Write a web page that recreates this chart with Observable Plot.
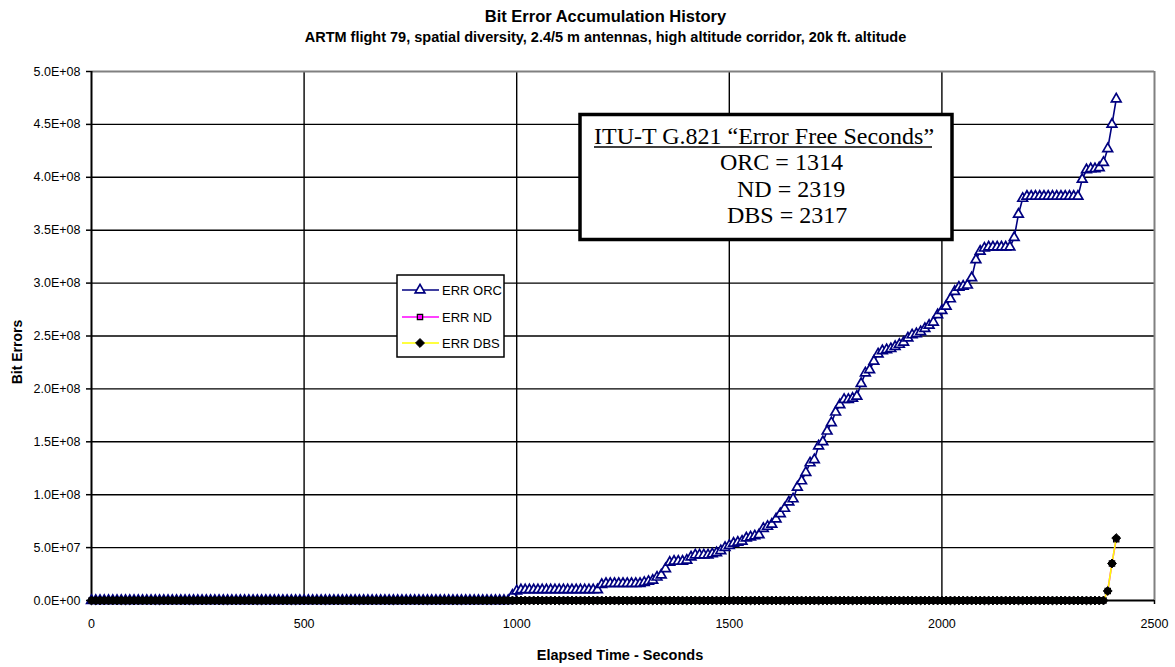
<!DOCTYPE html>
<html>
<head>
<meta charset="utf-8">
<script src="https://cdn.jsdelivr.net/npm/d3@7"></script>
<script src="https://cdn.jsdelivr.net/npm/@observablehq/plot@0.6"></script>
<style>
  body { margin: 0; background: #fff; }
  #wrap { position: relative; width: 1175px; height: 667px; font-family: "Liberation Sans", Arial, sans-serif; }
  .title { height: 21px; padding-top: 6px; line-height: 20px; text-align: center; font-weight: bold; font-size: 16.5px; padding-left: 36px; box-sizing: content-box; }
  .sub { height: 21px; line-height: 20px; text-align: center; font-weight: bold; font-size: 14.5px; padding-left: 36px; }
  #overlay { position: absolute; left: 0; top: 0; pointer-events: none; }
</style>
</head>
<body>
<div id="wrap">
  <div class="title">Bit Error Accumulation History</div>
  <div class="sub">ARTM flight 79, spatial diversity, 2.4/5 m antennas, high altitude corridor, 20k ft. altitude</div>
  <div id="chart"></div>
</div>
<script>
// ---- data (bit errors in millions, sampled every 10 s) ----
const seconds = [
  0,10,20,30,40,50,60,70,80,90,
  100,110,120,130,140,150,160,170,180,190,
  200,210,220,230,240,250,260,270,280,290,
  300,310,320,330,340,350,360,370,380,390,
  400,410,420,430,440,450,460,470,480,490,
  500,510,520,530,540,550,560,570,580,590,
  600,610,620,630,640,650,660,670,680,690,
  700,710,720,730,740,750,760,770,780,790,
  800,810,820,830,840,850,860,870,880,890,
  900,910,920,930,940,950,960,970,980,990,
  1000,1010,1020,1030,1040,1050,1060,1070,1080,1090,
  1100,1110,1120,1130,1140,1150,1160,1170,1180,1190,
  1200,1210,1220,1230,1240,1250,1260,1270,1280,1290,
  1300,1310,1320,1330,1340,1350,1360,1370,1380,1390,
  1400,1410,1420,1430,1440,1450,1460,1470,1480,1490,
  1500,1510,1520,1530,1540,1550,1560,1570,1580,1590,
  1600,1610,1620,1630,1640,1650,1660,1670,1680,1690,
  1700,1710,1720,1730,1740,1750,1760,1770,1780,1790,
  1800,1810,1820,1830,1840,1850,1860,1870,1880,1890,
  1900,1910,1920,1930,1940,1950,1960,1970,1980,1990,
  2000,2010,2020,2030,2040,2050,2060,2070,2080,2090,
  2100,2110,2120,2130,2140,2150,2160,2170,2180,2190,
  2200,2210,2220,2230,2240,2250,2260,2270,2280,2290,
  2300,2310,2320,2330,2340,2350,2360,2370,2380,2390,
  2400,2410
];
const errORC = [
  0,0,0,0,0,0,0,0,0,0,
  0,0,0,0,0,0,0,0,0,0,
  0,0,0,0,0,0,0,0,0,0,
  0,0,0,0,0,0,0,0,0,0,
  0,0,0,0,0,0,0,0,0,0,
  0,0,0,0,0,0,0,0,0,0,
  0,0,0,0,0,0,0,0,0,0,
  0,0,0,0,0,0,0,0,0,0,
  0,0,0,0,0,0,0,0,0,0,
  0,0,0,0,0,0,0,0,0,5,
  9,10,10,10,10,10,10,10,10,10,
  10,10,10,10,10,10,10,10,10,10,
  15,16,16,16,16,16,16,16,16,16,
  17,18,19,22,24,30,36,37,37,37,
  38,41,43,43,43,43,44,45,47,50,
  52,54,55,56,59,60,61,62,68,70,
  72,77,82,87,93,96,107,113,121,130,
  133,146,150,160,168,178,185,190,190,191,
  193,205,215,218,226,233,236,237,238,240,
  242,244,248,251,252,254,257,260,263,270,
  274,278,285,292,296,297,298,305,322,330,
  333,334,334,334,334,334,334,343,365,380,
  382,382,382,382,382,382,382,382,382,382,
  382,382,382,398,407,408,408,409,414,427,
  450,474
];
const errND = [
  0,0,0,0,0,0,0,0,0,0, 0,0,0,0,0,0,0,0,0,0,
  0,0,0,0,0,0,0,0,0,0, 0,0,0,0,0,0,0,0,0,0,
  0,0,0,0,0,0,0,0,0,0, 0,0,0,0,0,0,0,0,0,0,
  0,0,0,0,0,0,0,0,0,0, 0,0,0,0,0,0,0,0,0,0,
  0,0,0,0,0,0,0,0,0,0, 0,0,0,0,0,0,0,0,0,0,
  0,0,0,0,0,0,0,0,0,0, 0,0,0,0,0,0,0,0,0,0,
  0,0,0,0,0,0,0,0,0,0, 0,0,0,0,0,0,0,0,0,0,
  0,0,0,0,0,0,0,0,0,0, 0,0,0,0,0,0,0,0,0,0,
  0,0,0,0,0,0,0,0,0,0, 0,0,0,0,0,0,0,0,0,0,
  0,0,0,0,0,0,0,0,0,0, 0,0,0,0,0,0,0,0,0,0,
  0,0,0,0,0,0,0,0,0,0, 0,0,0,0,0,0,0,0,0,0,
  0,0,0,0,0,0,0,0,0,0, 0,0,0,0,0,0,0,0,0,9,
  35,58
];
const errDBS = [
  0,0,0,0,0,0,0,0,0,0, 0,0,0,0,0,0,0,0,0,0,
  0,0,0,0,0,0,0,0,0,0, 0,0,0,0,0,0,0,0,0,0,
  0,0,0,0,0,0,0,0,0,0, 0,0,0,0,0,0,0,0,0,0,
  0,0,0,0,0,0,0,0,0,0, 0,0,0,0,0,0,0,0,0,0,
  0,0,0,0,0,0,0,0,0,0, 0,0,0,0,0,0,0,0,0,0,
  0,0,0,0,0,0,0,0,0,0, 0,0,0,0,0,0,0,0,0,0,
  0,0,0,0,0,0,0,0,0,0, 0,0,0,0,0,0,0,0,0,0,
  0,0,0,0,0,0,0,0,0,0, 0,0,0,0,0,0,0,0,0,0,
  0,0,0,0,0,0,0,0,0,0, 0,0,0,0,0,0,0,0,0,0,
  0,0,0,0,0,0,0,0,0,0, 0,0,0,0,0,0,0,0,0,0,
  0,0,0,0,0,0,0,0,0,0, 0,0,0,0,0,0,0,0,0,0,
  0,0,0,0,0,0,0,0,0,0, 0,0,0,0,0,0,0,0,0,9,
  35,59
];
const seriesNames = ["ERR ORC", "ERR ND", "ERR DBS"];
const xTicks = [0, 500, 1000, 1500, 2000, 2500];
const yTicks = [0, 5e7, 1e8, 1.5e8, 2e8, 2.5e8, 3e8, 3.5e8, 4e8, 4.5e8, 5e8];
const boxTitle = "ITU-T G.821 \u201cError Free Seconds\u201d";
const boxLines = ["ORC = 1314", "ND = 2319", "DBS = 2317"];

// ---- styles ----
const styles = [
  {line: "#000080", symbol: "triangle", fill: "white", stroke: "#000080", r: 3.6, sw: 1.7},
  {line: "#FF00FF", symbol: "square", fill: "#FF00FF", stroke: "black", r: 3.0, sw: 1.2},
  {line: "#FFFF00", symbol: "diamond2", fill: "black", stroke: "black", r: 4.0, sw: 1}
];
const seriesValues = [errORC, errND, errDBS];
const tables = seriesValues.map(vals => seconds.map((t, i) => ({t, v: vals[i] * 1e6})));

function sci(d) {
  if (d === 0) return "0.0E+00";
  const e = Math.floor(Math.log10(d) + 1e-9);
  const m = d / Math.pow(10, e);
  return m.toFixed(1) + "E+" + String(e).padStart(2, "0");
}

const seriesMarks = [];
tables.forEach((data, k) => {
  const s = styles[k];
  seriesMarks.push(Plot.line(data, {x: "t", y: "v", stroke: s.line, strokeWidth: 1.6}));
  seriesMarks.push(Plot.dot(data, {x: "t", y: "v", symbol: () => s.symbol, r: s.r, fill: s.fill, stroke: s.stroke, strokeWidth: s.sw}));
});

const chart = Plot.plot({
  width: 1175,
  height: 619,
  marginLeft: 91,
  marginRight: 21,
  marginTop: 23,
  marginBottom: 67,
  style: {fontFamily: "'Liberation Sans', Arial, sans-serif", fontSize: "12.5px", color: "black", background: "white"},
  x: {domain: [0, 2500]},
  y: {domain: [0, 5e8]},
  marks: [
    Plot.ruleX(xTicks.slice(1, -1), {stroke: "black", strokeWidth: 1.4}),
    Plot.ruleY(yTicks.slice(1, -1), {stroke: "black", strokeWidth: 1.4}),
    Plot.ruleY([5e8], {stroke: "#808080", strokeWidth: 2}),
    Plot.ruleX([2500], {stroke: "#808080", strokeWidth: 2}),
    Plot.axisY({ticks: yTicks, tickFormat: sci, tickSize: 5, tickPadding: 6, label: null, stroke: "black", strokeWidth: 1.5}),
    Plot.axisX({ticks: xTicks, tickFormat: d => String(d), tickSize: 4, tickPadding: 15, label: null, stroke: "black", strokeWidth: 1.5}),
    Plot.ruleX([0], {stroke: "black", strokeWidth: 2}),
    Plot.ruleY([0], {stroke: "black", strokeWidth: 2}),
    ...seriesMarks
  ]
});
document.getElementById("chart").appendChild(chart);

// ---- overlay: axis titles, legend, annotation box ----
const ov = d3.select("#wrap").append("svg").attr("id", "overlay").attr("width", 1175).attr("height", 667)
  .style("font-family", "'Liberation Sans', Arial, sans-serif");

ov.append("text").attr("transform", "translate(22,352) rotate(-90)").attr("text-anchor", "middle")
  .attr("font-weight", "bold").attr("font-size", "14px").text("Bit Errors");
ov.append("text").attr("x", 620).attr("y", 660).attr("text-anchor", "middle")
  .attr("font-weight", "bold").attr("font-size", "14.5px").text("Elapsed Time - Seconds");

// legend
const lg = ov.append("g");
lg.append("rect").attr("x", 397).attr("y", 275).attr("width", 107).attr("height", 82)
  .attr("fill", "white").attr("stroke", "black").attr("stroke-width", 1.5);
const symMap = {triangle: d3.symbolTriangle, square: d3.symbolSquare, diamond2: d3.symbolDiamond2};
const rowY = [290, 317, 343];
seriesNames.forEach((name, k) => {
  const s = styles[k];
  const y = rowY[k];
  lg.append("line").attr("x1", 402).attr("x2", 439).attr("y1", y).attr("y2", y).attr("stroke", s.line).attr("stroke-width", 1.5);
  lg.append("path").attr("transform", `translate(420,${y})`)
    .attr("d", d3.symbol().type(symMap[s.symbol]).size(Math.PI * s.r * s.r)())
    .attr("fill", s.fill).attr("stroke", s.stroke).attr("stroke-width", s.sw);
  lg.append("text").attr("x", 442).attr("y", y).attr("dy", "0.36em").attr("font-size", "13px").text(name);
});

// annotation box
const ab = ov.append("g").style("font-family", "'Liberation Serif', 'Times New Roman', serif");
ab.append("rect").attr("x", 580).attr("y", 114.5).attr("width", 372).attr("height", 125)
  .attr("fill", "white").attr("stroke", "black").attr("stroke-width", 3.5);
ab.append("text").attr("x", 594).attr("y", 144).attr("font-size", "24px").text(boxTitle);
ab.append("line").attr("x1", 594).attr("x2", 932).attr("y1", 147).attr("y2", 147).attr("stroke", "black").attr("stroke-width", 1.5);
const boxX = [720, 737, 727];
const boxY = [170, 197, 223];
boxLines.forEach((t, i) => {
  ab.append("text").attr("x", boxX[i]).attr("y", boxY[i]).attr("font-size", "24px").text(t);
});
</script>
</body>
</html>
